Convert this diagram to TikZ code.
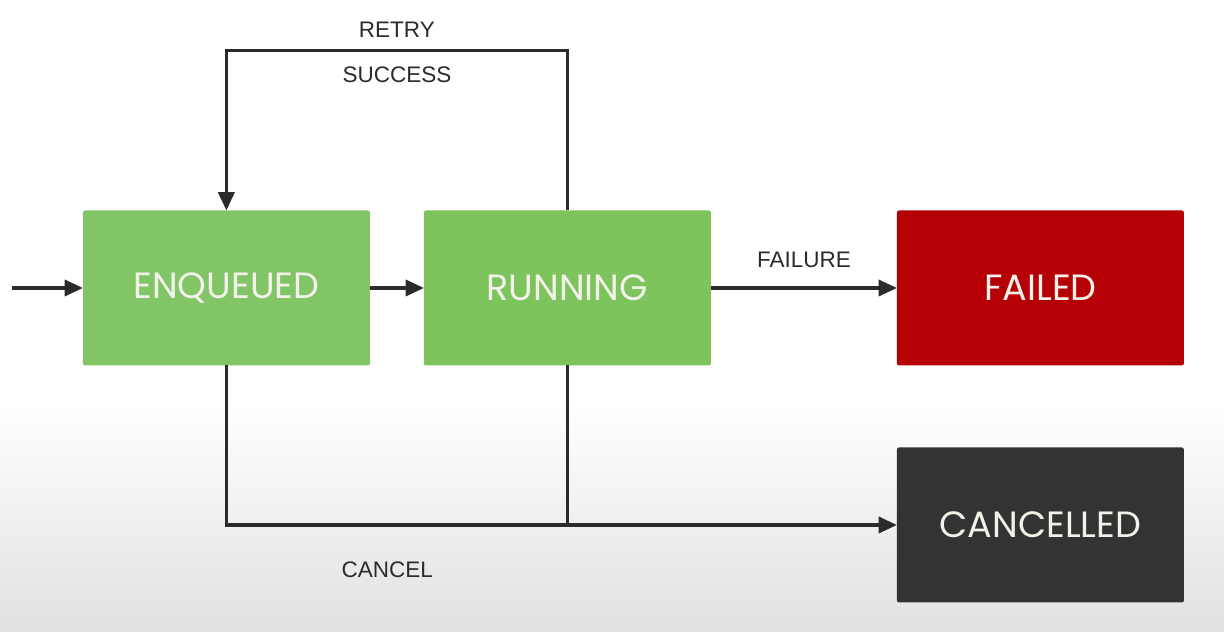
\documentclass[tikz,border=0pt]{standalone}
\usepackage{fontspec}
\setmainfont{Liberation Sans}
\newfontfamily\statefont{Poppins}
\usetikzlibrary{positioning,arrows.meta}

%% state colours
\definecolor{EnqGreen}{HTML}{82C566}
\definecolor{RunGreen}{HTML}{7DC45C}
\definecolor{FailRed}{HTML}{B50006}
\definecolor{CancelGrey}{HTML}{333333}
\definecolor{StateText}{HTML}{F2F2EA}
\definecolor{LineGrey}{HTML}{2B2B2B}
\definecolor{FloorGrey}{HTML}{E0E2E0}

\tikzset{
	state/.style={rectangle, rounded corners=1.5pt, inner sep=0pt, outer sep=0pt,
		minimum width=7.175cm, minimum height=3.875cm,
		text=StateText, font=\statefont\fontsize{26}{30}\selectfont},
	flow/.style={draw=LineGrey, line width=2.2pt, -{Triangle[length=13pt,width=11.5pt]}},
	wire/.style={draw=LineGrey, line width=2.2pt},
	lbl/.style={text=LineGrey, font=\fontsize{16}{19}\selectfont, inner sep=0pt}
}

\begin{document}
\begin{tikzpicture}

%% page and the grey floor at the bottom
\fill[white] (0,0) rectangle (30.6,15.8);
\shade[top color=white, bottom color=FloorGrey] (0,0) rectangle (30.6,5.8);
\useasboundingbox (0,0) rectangle (30.6,15.8);

%% states
\node[state, fill=EnqGreen] (enqueued) at (5.66,8.6) {ENQUEUED};
\node[state, fill=RunGreen, right=1.35cm of enqueued] (running) {RUNNING};
\node[state, fill=FailRed, right=4.65cm of running] (failed) {FAILED};
\node[state, fill=CancelGrey, below=2.05cm of failed] (cancelled) {CANCELLED};

\coordinate (start) at (0.3,8.6);

%% transitions
\draw[flow] (start) -- (enqueued);
\draw[flow] (enqueued) -- (running);
\draw[flow] (running) -- node[lbl, yshift=0.7cm] {FAILURE} (failed);

%% retry loop
\draw[flow] (running.north) -- ++(0,4)
	-| node[lbl, pos=0.25, yshift=0.53cm] {RETRY}
	   node[lbl, pos=0.25, yshift=-0.6cm] {SUCCESS} (enqueued.north);

%% cancel from both states
\draw[flow] (enqueued.south) |- node[lbl, pos=0.62, yshift=-1.13cm] {CANCEL} (cancelled.west);
\draw[wire] (running.south) -- (running.south |- cancelled.west);

\end{tikzpicture}
\end{document}
